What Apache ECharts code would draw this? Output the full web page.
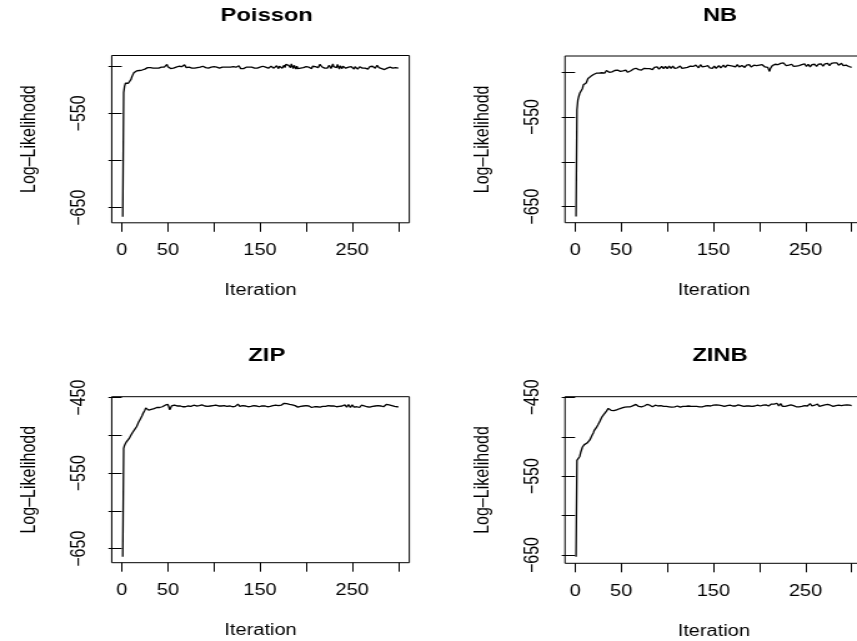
<!DOCTYPE html>
<html>
<head>
<meta charset="utf-8">
<script src="https://cdn.jsdelivr.net/npm/echarts@6/dist/echarts.min.js"></script>
<style>
  html, body { margin: 0; padding: 0; background: #fff; overflow: hidden; }
  #wrap { width: 857px; height: 641px; overflow: hidden; }
  /* the figure is laid out on a narrower canvas and widened horizontally */
  #chart { width: 686px; height: 641px; transform: scaleX(1.24927); transform-origin: 0 0; }
</style>
</head>
<body>
<div id="wrap"><div id="chart"></div></div>
<script>
// Log-likelihood traces, one value per iteration (1..300)
const poisson = [
  -659.5, -528, -521, -518, -516, -517, -518, -518, -517, -514, -511, -509, -507, -506, -506, -505, -505, -504, -504.5, -503.5,
  -503, -504, -503, -502.5, -503, -502, -503, -501.5, -502, -502.5, -501.5, -502, -501, -502, -502.5, -501, -502, -500.5, -501.5, -502,
  -501, -502, -501, -500.5, -502, -501, -500, -499, -498, -500.5, -502, -501, -502.5, -501, -500.5, -502, -501.5, -500, -501, -502,
  -501, -500, -502, -501.5, -500.5, -499.5, -501, -498.5, -500, -501.5, -500.5, -502, -501, -500, -501.5, -502, -501, -500.5, -502, -501,
  -500, -501.5, -502, -500.5, -501, -502.5, -501, -500, -501, -502, -501.5, -500.5, -501.5, -502, -501, -500.5, -501, -502, -501, -500.5,
  -501.5, -502, -501, -500, -501.5, -502, -501, -500.5, -501, -502, -501.5, -501, -500.5, -502, -501, -501.5, -500.5, -501, -502, -501,
  -500.5, -501.5, -502, -501, -500, -501.5, -499.5, -501, -502.5, -502, -501, -502.5, -501.5, -502, -501, -500.5, -502, -501, -501.5, -502,
  -501, -500, -501.5, -502, -501, -500.5, -502, -501.5, -500.5, -501, -502, -501, -500, -501.5, -502, -501, -499.5, -501, -502, -500.5,
  -501.5, -500, -499, -501.5, -502, -500, -501, -499.5, -501.5, -502.5, -500, -499, -501, -502, -500.5, -499, -501.5, -498, -497, -496.5,
  -499, -498, -501.5, -497.5, -500, -502.5, -499, -501, -503, -500, -502.5, -501, -500.5, -502, -501.5, -500, -501.5, -502, -501, -500.5,
  -501, -502.5, -501, -500, -501.5, -502.5, -500, -501, -502, -500.5, -501, -502, -501.5, -499.5, -498, -497, -500.5, -502, -501, -502,
  -501, -500.5, -502, -501.5, -499, -501, -502.5, -500, -497.5, -500.5, -502.5, -499, -501.5, -498, -500.5, -503, -499.5, -501, -502.5, -500,
  -501.5, -499, -502, -500.5, -503, -501, -499.5, -502, -500.5, -502.5, -501, -503, -500.5, -502, -501.5, -503, -502, -500.5, -502.5, -501,
  -502, -501.5, -503, -502, -501, -502.5, -503, -502, -500.5, -501.5, -502, -500, -499.5, -501, -502, -500.5, -499, -500, -501.5, -502,
  -501, -502.5, -503, -502, -503.5, -502.5, -503, -502, -501.5, -502, -501, -501.5, -502.5, -502, -501, -500.5, -501.5, -502, -502.5, -502
];
const nb = [
  -661, -542, -531, -527, -523.5, -523, -521.5, -518, -514, -513.5, -512.5, -512, -509.5, -507, -506.5, -505, -504.5, -503, -503.5, -502.5,
  -502, -501.5, -501, -502, -500.5, -501, -500, -501, -500.5, -499.5, -500, -501, -499.5, -498, -496.5, -498.5, -500, -501, -501, -499.5,
  -500.5, -499, -498, -500, -499, -497.5, -499.5, -498, -499, -500.5, -499.5, -498.5, -500, -499, -497.5, -498.5, -500, -499.5, -500, -498.5,
  -497.5, -498, -496.5, -496, -495.5, -495.5, -496, -496.5, -497, -496, -496.5, -497.5, -497, -496.5, -495.5, -496, -497, -496, -495.5, -497,
  -496, -495, -496.5, -497, -495.5, -494.5, -496, -495, -494, -495.5, -496.5, -495, -494.5, -493.5, -495, -496, -494.5, -493.5, -495, -496,
  -494.5, -493, -494.5, -495.5, -494, -493, -494.5, -495.5, -494, -493.5, -495, -496, -494.5, -493, -494, -495.5, -494.5, -493.5, -495, -494,
  -493, -494.5, -495.5, -494, -493, -495, -494.5, -493.5, -492.5, -494, -492, -491, -493.5, -495, -493, -491.5, -492.5, -494, -493.5, -492.5,
  -493.5, -494.5, -493, -492.5, -494, -495, -493.5, -494.5, -495.5, -494, -493, -494.5, -495.5, -494, -493.5, -492.5, -494, -495, -494, -493,
  -492, -493.5, -494.5, -493, -492, -493.5, -494, -492.5, -493.5, -494.5, -493, -492, -493, -494, -492.5, -491.5, -493, -494, -492.5, -493.5,
  -492.5, -491.5, -493, -494.5, -493, -492, -493.5, -492.5, -491.5, -493, -494, -492.5, -493.5, -492, -491.5, -493, -492.5, -494, -493, -492,
  -493.5, -492, -491.5, -493, -492, -494, -493, -492.5, -494.5, -496, -499, -495.5, -494, -492.5, -493.5, -492, -491, -492.5, -493, -491.5,
  -492.5, -491, -490, -491.5, -490.5, -489.5, -489.3, -491, -492.5, -491, -490.5, -492, -493.5, -492, -491, -492.5, -493.5, -492, -491.5, -493,
  -492, -491, -492.5, -494, -492.5, -491.5, -493, -492, -490.5, -492, -493.5, -492.5, -491, -492.5, -494, -492, -491.5, -493, -492, -491,
  -492.5, -493.5, -492, -491, -492.5, -491.5, -490.5, -492, -493, -491.5, -490.5, -492, -491, -490, -491.5, -492.5, -491, -490, -491.5, -490.5,
  -489.5, -491, -490.5, -489.5, -491, -492, -490.5, -491.5, -490, -491, -492.5, -491.5, -490.5, -492, -493, -492, -493.5, -494, -494.5, -494.5
];
const zip = [
  -660.6, -517, -513, -510.5, -508.5, -507, -506, -504, -502, -499.5, -497.5, -495.5, -494, -492, -490, -488.5, -486, -483, -480.5, -478.5,
  -476, -474, -471, -469, -466.5, -463.5, -464, -465.5, -466.5, -467, -466, -465.5, -466, -465, -464.5, -465, -464, -463, -464.5, -462.5,
  -463, -461.5, -460.5, -462, -461, -462.5, -460, -461.5, -459.5, -459, -462, -466, -463.5, -461, -460.5, -462, -460, -461.5, -462.5, -461,
  -460.5, -462, -461, -460, -461.5, -462, -461, -460.5, -462, -461.5, -460.5, -461, -462, -460.5, -461.5, -462.5, -461, -460, -461.5, -462,
  -461, -459.5, -460, -460.5, -461.5, -460, -459.5, -461, -462, -461, -460.5, -462, -461.5, -460, -459, -461, -462.5, -461, -460.5, -459.5,
  -461, -460, -461.5, -462.5, -461, -463, -462, -461, -462.5, -461.5, -460.5, -462, -463, -461.5, -460.5, -462, -461, -460, -461.5, -462,
  -461, -460, -461.5, -460.5, -459.5, -458.5, -460, -461.5, -462, -461, -460.5, -461.5, -462, -461, -460, -461.5, -462, -461, -460.5, -461.5,
  -462, -461, -460.5, -461.5, -462.5, -461, -460, -461, -462, -461.5, -460.5, -461, -462, -461.5, -461, -460.5, -461.5, -462, -461, -460.5,
  -461.5, -462, -461, -460.5, -461.5, -461, -460, -461, -461.5, -460.5, -460, -461, -460, -459, -458, -457.5, -457, -456.6, -458, -459.5,
  -460, -459, -461, -460.5, -459.5, -461, -462, -460.5, -459.5, -461, -462.5, -461, -460, -461.5, -462, -460.5, -461, -462, -461.5, -460.5,
  -461.5, -462, -461, -460, -462, -463, -461.5, -460.5, -462, -461, -460.5, -462, -461.5, -461, -462.5, -461, -460.5, -461.5, -462, -461,
  -461.5, -462, -461, -460.5, -461.5, -462, -461, -461.5, -462, -461, -460.5, -461.5, -462, -461, -460, -461.5, -460.5, -459.5, -461, -462,
  -461, -459.5, -461.5, -462.5, -460, -459, -461, -463, -460.5, -459.5, -461.5, -462.5, -460, -461, -462, -460.5, -461.5, -463, -461, -460,
  -461.5, -462.5, -461, -460, -461.5, -462, -460.5, -461.5, -462.5, -461, -460, -461.5, -462, -460.5, -461, -462, -461.5, -460.5, -461, -462,
  -461, -460, -461.5, -462, -460.5, -460, -459, -459.5, -458.5, -459.5, -460, -461, -460.5, -461.5, -462, -461.5, -461, -462.5, -462, -462.5
];
const zinb = [
  -652.3, -530, -528.5, -527.5, -525, -520, -516.5, -513, -511, -510, -509.5, -509, -508, -507, -505.5, -504, -501.5, -499, -497.5, -494.5,
  -491.5, -490, -488.5, -487, -484.5, -482, -480, -477.5, -475, -473, -472, -471, -469.5, -467.5, -465.5, -464, -463.5, -465, -466.5, -467,
  -466.5, -467, -466, -465.5, -466, -465, -465.5, -464.5, -465, -464, -463.5, -464, -463, -462.5, -463.5, -462.5, -462, -462.5, -461.5, -462,
  -461, -461.5, -460.5, -460, -459.5, -459, -458.5, -460, -461.5, -460.5, -461, -462, -460.5, -459.5, -461, -462, -460, -459, -461, -461.5,
  -460, -459.5, -461, -462, -460.5, -459.5, -460, -461.5, -460.5, -461, -462, -461, -460.5, -461.5, -462, -461.5, -461, -462, -461.5, -461,
  -461.5, -462, -461, -461.5, -462.5, -461.5, -461, -462, -462.5, -461.5, -461, -462, -461.5, -462.5, -462, -461, -461.5, -462, -461, -461.5,
  -462, -461.5, -461, -462, -462.5, -461.5, -461, -462, -461.5, -461, -462, -461.5, -460.5, -461, -462, -461.5, -461, -462, -461, -460,
  -461, -462, -461.5, -460.5, -461, -462, -461, -460.5, -461.5, -460, -461, -460.5, -459.5, -461, -462, -460, -459.5, -461, -460.5, -459.5,
  -460.5, -461.5, -460, -459, -460.5, -461, -459.5, -460, -459, -460.5, -461, -460, -459.5, -461, -462, -460, -459.5, -460.5, -461, -460.5,
  -460, -461, -461.5, -460.5, -460, -461, -460.5, -461.5, -461, -460, -460.5, -461.5, -461, -460, -461, -461.5, -460.5, -460, -461, -460.5,
  -461, -460.5, -461.5, -460, -461, -460, -459.5, -460.5, -461.5, -461, -460, -459.5, -458.5, -457.5, -456.8, -458.5, -460.5, -458, -457.5, -459.5,
  -461, -459, -458, -460, -461.5, -459.5, -460.5, -461.5, -460, -459, -460.5, -461.5, -460.5, -459.5, -461, -462, -460.5, -461, -461.5, -462,
  -461, -461.5, -462, -461, -460.5, -461.5, -462, -461.5, -460.5, -461, -462, -461, -460, -459, -458, -459.5, -461, -460, -458.5, -460,
  -461.5, -460, -458.5, -460, -461.5, -460.5, -459, -460.5, -461.5, -460, -459.5, -461, -460, -459, -460.5, -461.5, -460, -459, -460.5, -461.5,
  -460, -459, -460.5, -461, -459.5, -460, -461, -459.5, -460.5, -461, -459.5, -460, -461, -460, -459.5, -461, -460.5, -460, -461, -460.5
];

// Panel titles and tick marks
const panelTitles = ['Poisson', 'NB', 'ZIP', 'ZINB'];
const xTickValues = [0, 50, 100, 150, 200, 250, 300];
const xTickLabels = [0, 50, 150, 250];
const yTickValuesTop = [-650, -600, -550, -500];
const yTickLabelsTop = [-650, -550];
const yTickValuesBottom = [-650, -600, -550, -500, -450];
const yTickLabelsBottom = [-650, -550, -450];

const SX = 857 / 686;            // horizontal widening of the canvas
const hx = v => v / SX;          // page x position -> canvas x position
const FONT = '"Liberation Sans", Arial, Helvetica, sans-serif';
const minus = v => String(v).replace('-', '\u2212');

// Plot frames (page pixels) and value ranges of each panel
const frames = [
  { left: 111.7, top: 55.5,  height: 167.3, yMin: -666.0, yMax: -488.6, data: poisson, ticks: yTickValuesTop,    labels: yTickLabelsTop },
  { left: 565.0, top: 56.0,  height: 166.7, yMin: -667.9, yMax: -481.8, data: nb,      ticks: yTickValuesTop,    labels: yTickLabelsTop },
  { left: 111.7, top: 396.7, height: 166.0, yMin: -668.5, yMax: -448.7, data: zip,     ticks: yTickValuesBottom, labels: yTickLabelsBottom },
  { left: 565.0, top: 396.7, height: 166.6, yMin: -660.5, yMax: -449.2, data: zinb,    ticks: yTickValuesBottom, labels: yTickLabelsBottom }
];
const frameWidth = 297.6;
const xMin = 1 - 0.04 * 299, xMax = 300 + 0.04 * 299;

const grid = [], xAxis = [], yAxis = [], series = [], title = [];
frames.forEach((f, i) => {
  grid.push({
    left: hx(f.left), top: f.top, width: hx(frameWidth), height: f.height,
    show: true, borderColor: '#000', borderWidth: 1, backgroundColor: 'transparent',
    containLabel: false, outerBoundsMode: 'none'
  });
  xAxis.push({
    gridIndex: i, type: 'value', min: xMin, max: xMax,
    name: 'Iteration', nameLocation: 'middle', nameGap: 60,
    nameTextStyle: { fontFamily: FONT, fontSize: 16, color: '#000' },
    axisLine: { show: false },
    splitLine: { show: false },
    axisTick: { show: true, customValues: xTickValues, length: 9, lineStyle: { color: '#000', width: 1 } },
    axisLabel: { customValues: xTickLabels, margin: 20, fontFamily: FONT, fontSize: 16, color: '#000' }
  });
  yAxis.push({
    gridIndex: i, type: 'value', min: f.yMin, max: f.yMax,
    name: 'Log\u2013Likelihodd', nameLocation: 'middle', nameGap: 58, nameRotate: 90,
    nameTextStyle: { fontFamily: FONT, fontSize: 16, color: '#000' },
    axisLine: { show: false },
    splitLine: { show: false },
    axisTick: { show: true, customValues: f.ticks, length: hx(13.4), lineStyle: { color: '#000', width: 1 } },
    axisLabel: { customValues: f.labels, rotate: 90, margin: 18, fontFamily: FONT, fontSize: 16, color: '#000', formatter: minus }
  });
  series.push({
    type: 'line', xAxisIndex: i, yAxisIndex: i,
    data: f.data.map((v, k) => [k + 1, v]),
    showSymbol: false, symbol: 'none',
    lineStyle: { color: '#000', width: 1.3 },
    animation: false
  });
  title.push({
    text: panelTitles[i],
    left: hx(f.left + frameWidth / 2), top: i < 2 ? 1 : 341,
    textAlign: 'center',
    textStyle: { fontFamily: FONT, fontSize: 19, fontWeight: 'bold', color: '#000' }
  });
});

const chart = echarts.init(document.getElementById('chart'), null, { renderer: 'canvas' });
chart.setOption({ backgroundColor: '#fff', animation: false, title, grid, xAxis, yAxis, series });
</script>
</body>
</html>
